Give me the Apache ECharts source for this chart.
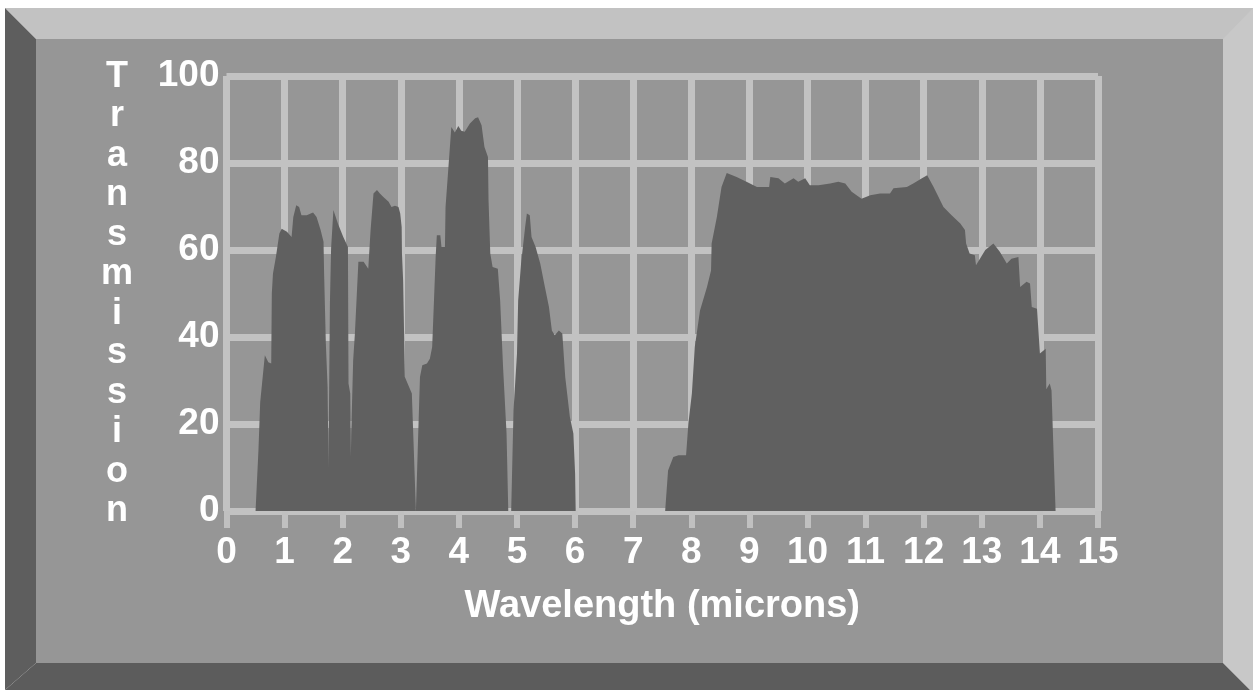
<!DOCTYPE html>
<html>
<head>
<meta charset="utf-8">
<script src="https://cdn.jsdelivr.net/npm/echarts@6/dist/echarts.min.js"></script>
<style>
  html, body { margin: 0; padding: 0; background: #ffffff; }
  #chart { width: 1253px; height: 690px; }
</style>
</head>
<body>
<div id="chart"></div>
<script>
// Wavelength (microns) sample positions along the outline
var wavelength = [
  0.50, 0.55, 0.58, 0.66, 0.69, 0.72, 0.77, 0.78, 0.80, 0.85, 0.91, 0.95, 1.04, 1.12, 1.15, 1.20, 1.25, 1.29, 1.38, 1.49,
  1.55, 1.62, 1.67, 1.68, 1.71, 1.74, 1.745, 1.75, 1.755, 1.77, 1.78, 1.80, 1.84, 1.92, 2.01, 2.09, 2.10, 2.13, 2.14, 2.15,
  2.18, 2.21, 2.27, 2.36, 2.44, 2.48, 2.53, 2.59, 2.64, 2.70, 2.79, 2.84, 2.90, 2.96, 2.99, 3.015, 3.02, 3.04, 3.07, 3.13,
  3.19, 3.22, 3.26,
  3.27, 3.30, 3.33, 3.37, 3.45, 3.50, 3.54, 3.56, 3.60, 3.62, 3.68, 3.70, 3.76, 3.77, 3.82, 3.87, 3.93, 3.99, 4.04, 4.10,
  4.19, 4.28, 4.33, 4.39, 4.44, 4.50, 4.51, 4.54, 4.58, 4.67, 4.71, 4.76, 4.82, 4.85,
  4.90, 4.94, 5.00, 5.02, 5.07, 5.14, 5.17, 5.22, 5.25, 5.32, 5.40, 5.48, 5.55, 5.60, 5.65, 5.72, 5.78, 5.83, 5.91, 5.97,
  6.00, 6.01,
  7.55, 7.60, 7.69, 7.78, 7.91, 7.95, 8.01, 8.06, 8.15, 8.27, 8.34, 8.35, 8.44, 8.52, 8.61, 8.78, 8.95, 9.13, 9.34, 9.36,
  9.50, 9.61, 9.76, 9.84, 9.96, 10.04, 10.19, 10.39, 10.53, 10.65, 10.76, 10.93, 11.08, 11.25, 11.42, 11.48, 11.71, 11.82, 11.97, 12.06,
  12.17, 12.34, 12.48, 12.63, 12.71, 12.73, 12.79, 12.88, 12.90, 13.06, 13.20, 13.31, 13.43, 13.51, 13.63, 13.66, 13.77, 13.83, 13.86, 13.95,
  14.00, 14.10, 14.11, 14.17, 14.20, 14.23, 14.27
];
// Transmission (%) at those positions
var transmission = [
  0, 14, 25, 35.8, 36, 34.2, 33.9, 50, 54.6, 58.4, 63.8, 64.9, 64.2, 63.0, 67.6, 70.3, 69.9, 68.0, 68.0, 68.6,
  67.6, 64.6, 61.9, 54.6, 38.5, 28.5, 22, 18.1, 10.1, 10.1, 47.7, 60.3, 69.2, 66, 63.0, 60.7, 29.3, 27.0, 12.4, 19.3,
  34.6, 40.8, 57.3, 57.3, 55.7, 64.6, 73.0, 73.8, 73.0, 72.2, 71.1, 69.9, 70.2, 69.9, 68.4, 65.3, 59.2, 53.0, 30.8, 28.9,
  27.0, 15.5, 0,
  0, 17.8, 30.8, 33.5, 33.9, 35.0, 37.7, 44.6, 58.4, 63.4, 63.4, 60.7, 60.7, 69.9, 79.1, 88.3, 87.0, 88.5, 87.4, 87.2,
  89.1, 90.3, 90.5, 88.7, 83.7, 81.4, 71.5, 59.2, 56.1, 55.7, 48.4, 33.1, 17.8, 0,
  0, 23.1, 36.2, 48.4, 56.9, 65.3, 68.4, 68.0, 63.0, 60.7, 56.9, 51.5, 46.9, 41.5, 40.4, 41.5, 40.8, 30.8, 21.6, 17.8,
  8.6, 0,
  0, 9.3, 12.4, 12.8, 12.8, 20.1, 27.0, 37.7, 46.1, 51.5, 55.3, 61.5, 67.6, 74.5, 77.7, 76.8, 75.7, 74.5, 74.5, 76.8,
  76.5, 75.3, 76.5, 75.7, 76.5, 74.9, 74.9, 75.3, 75.7, 75.3, 73.4, 71.8, 72.6, 73.0, 73.0, 74.2, 74.5, 75.3, 76.5, 77.2,
  74.5, 69.9, 68.0, 66.1, 64.6, 61.5, 59.2, 58.8, 56.5, 60.0, 61.5, 59.6, 56.9, 58.0, 58.4, 51.5, 52.7, 52.3, 46.9, 46.5,
  36.2, 37.3, 28.0, 29.3, 27.7, 15.5, 0
];
var yTitle = 'Transmission';
var xTitle = 'Wavelength (microns)';

var FONT = '"Liberation Sans", Arial, Helvetica, sans-serif';
var points = wavelength.map(function (w, i) { return [w, transmission[i]]; });

var chart = echarts.init(document.getElementById('chart'), null, { renderer: 'canvas' });
chart.setOption({
  animation: false,
  backgroundColor: '#ffffff',
  graphic: [
    { type: 'polygon', z: -10, silent: true, shape: { points: [[5, 8], [1253, 8], [1253, 39], [36, 39]] }, style: { fill: '#c2c2c2' } },
    { type: 'polygon', z: -10, silent: true, shape: { points: [[1223, 39], [1253, 8], [1253, 690], [1250, 690], [1223, 663]] }, style: { fill: '#c8c8c8' } },
    { type: 'polygon', z: -10, silent: true, shape: { points: [[5, 8], [36, 39], [36, 663], [5, 690]] }, style: { fill: '#5e5e5e' } },
    { type: 'polygon', z: -10, silent: true, shape: { points: [[5, 690], [36, 663], [1223, 663], [1250, 690]] }, style: { fill: '#5c5c5c' } },
    { type: 'rect', z: -10, silent: true, shape: { x: 36, y: 39, width: 1187, height: 624 }, style: { fill: '#969696' } },
    {
      type: 'text', z: 10, silent: true, x: 117, y: 57,
      style: {
        text: yTitle.split('').join('\n'),
        fill: '#ffffff', font: 'bold 36px ' + FONT,
        align: 'center', verticalAlign: 'top', lineHeight: 39.5
      }
    }
  ],
  grid: { left: 226.5, right: 155, top: 76, bottom: 179, containLabel: false, show: false },
  xAxis: {
    type: 'value', min: 0, max: 15, interval: 1,
    name: xTitle, nameLocation: 'middle', nameGap: 77,
    nameTextStyle: { color: '#ffffff', fontWeight: 'bold', fontSize: 38, fontFamily: FONT },
    axisLine: { show: false },
    axisTick: { show: true, length: 17, lineStyle: { color: '#c0c0c0', width: 6 } },
    axisLabel: { color: '#ffffff', fontWeight: 'bold', fontSize: 37, fontFamily: FONT, margin: 23 },
    splitLine: { show: true, lineStyle: { color: '#c2c2c2', width: 7 } }
  },
  yAxis: {
    type: 'value', min: 0, max: 100, interval: 20,
    axisLine: { show: false },
    axisTick: { show: false },
    axisLabel: { color: '#ffffff', fontWeight: 'bold', fontSize: 37, fontFamily: FONT, margin: 7 },
    splitLine: { show: true, lineStyle: { color: '#c2c2c2', width: 7 } }
  },
  series: [{
    type: 'line',
    data: points,
    showSymbol: false,
    symbol: 'none',
    smooth: false,
    lineStyle: { width: 0, color: '#606060' },
    areaStyle: { color: '#606060', opacity: 1 },
    z: 3
  }]
});
</script>
</body>
</html>
